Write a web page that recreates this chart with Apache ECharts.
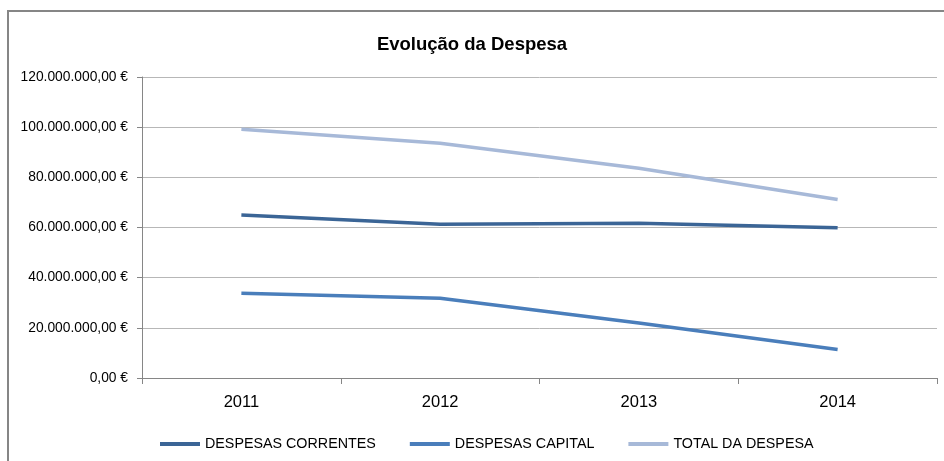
<!DOCTYPE html>
<html>
<head>
<meta charset="utf-8">
<script src="https://cdn.jsdelivr.net/npm/echarts@6/dist/echarts.min.js"></script>
<style>
  html, body { margin: 0; padding: 0; background: #fff; }
  #chart { width: 944px; height: 461px; }
</style>
</head>
<body>
<div id="chart"></div>
<script>
// dados
const anos = ['2011', '2012', '2013', '2014']
const despesasCorrentes = [65000000, 61300000, 61700000, 59900000]
const despesasCapital = [33800000, 31800000, 21900000, 11400000]
const totalDespesa = [99200000, 93600000, 83600000, 71200000]

const FONT = '"Liberation Sans", Arial, sans-serif'

function euro(v) {
  const s = Math.round(v).toString().replace(/\B(?=(\d{3})+(?!\d))/g, '.')
  return s + ',00 €'
}

const chart = echarts.init(document.getElementById('chart'))
chart.setOption({
  backgroundColor: '#fff',
  animation: false,
  textStyle: { fontFamily: FONT },
  graphic: [{
    type: 'rect',
    shape: { x: 8, y: 11, width: 1000, height: 500 },
    style: { fill: 'none', stroke: '#868686', lineWidth: 2 },
    silent: true
  }],
  title: {
    text: 'Evolução da Despesa',
    left: 'center',
    top: 30,
    textStyle: { fontFamily: FONT, fontSize: 18.5, fontWeight: 'bold', color: '#000' }
  },
  legend: {
    bottom: 5,
    left: 155,
    icon: 'rect',
    itemWidth: 40,
    itemHeight: 4,
    itemGap: 34,
    textStyle: { fontFamily: FONT, fontSize: 14.3, color: '#000' },
    data: ['DESPESAS CORRENTES', 'DESPESAS CAPITAL', 'TOTAL DA DESPESA']
  },
  grid: { left: 142, right: 7, top: 77, bottom: 83 },
  xAxis: {
    type: 'category',
    data: anos,
    boundaryGap: true,
    axisLine: { lineStyle: { color: '#868686', width: 1 } },
    axisTick: { show: true, length: 6, lineStyle: { color: '#868686' } },
    axisLabel: { color: '#000', fontSize: 16.5, margin: 16, fontFamily: FONT }
  },
  yAxis: {
    type: 'value',
    min: 0,
    max: 120000000,
    interval: 20000000,
    axisLine: { show: true, lineStyle: { color: '#868686' } },
    axisTick: { show: true, length: 5, lineStyle: { color: '#868686' } },
    axisLabel: { color: '#000', fontSize: 13.8, margin: 14, fontFamily: FONT, formatter: euro },
    splitLine: { lineStyle: { color: '#b7b7b7' } }
  },
  series: [
    { name: 'DESPESAS CORRENTES', type: 'line', data: despesasCorrentes, showSymbol: false,
      lineStyle: { color: '#3b6596', width: 3.5 }, itemStyle: { color: '#3b6596' } },
    { name: 'DESPESAS CAPITAL', type: 'line', data: despesasCapital, showSymbol: false,
      lineStyle: { color: '#4a7ebb', width: 3.5 }, itemStyle: { color: '#4a7ebb' } },
    { name: 'TOTAL DA DESPESA', type: 'line', data: totalDespesa, showSymbol: false,
      lineStyle: { color: '#a7b9d8', width: 3.5 }, itemStyle: { color: '#a7b9d8' } }
  ]
})
</script>
</body>
</html>
